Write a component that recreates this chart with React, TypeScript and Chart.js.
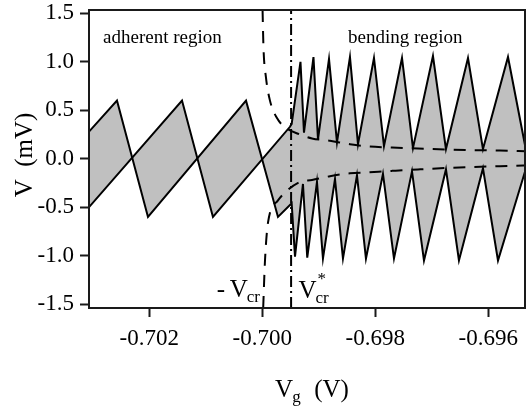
import React, { useEffect, useRef } from "react";
import { Chart, registerables } from "chart.js";

Chart.register(...registerables);

// ---- axis ticks ----
const xTicks = [-0.702, -0.7, -0.698, -0.696];
const yTicks = [-1.5, -1.0, -0.5, 0.0, 0.5, 1.0, 1.5];
const xMin = -0.703067;
const xMax = -0.69535;
const yMin = -1.54;
const yMax = 1.535;

// ---- upper boundary of the gray band (Vg in V, V in mV) ----
const upperVg = [
  -0.703067, -0.701421, -0.700873, -0.69951, -0.69948, -0.699324, -0.699262,
  -0.699094, -0.699014, -0.698819, -0.698678, -0.698448, -0.698306, -0.698023,
  -0.697846, -0.697527, -0.697333, -0.696979, -0.696749, -0.696359, -0.696094,
  -0.695651, -0.695333,
];
const upperV = [
  -0.5, 0.6, -0.6, 0.33, 0.36, 1.0, 0.27, 1.05, 0.2, 1.03, 0.17, 1.05, 0.15,
  1.04, 0.13, 1.04, 0.11, 1.06, 0.1, 1.04, 0.1, 1.05, 0.09,
];

// ---- lower boundary of the gray band ----
const lowerVg = [
  -0.703067, -0.702572, -0.702023, -0.700288, -0.699722, -0.69948, -0.699421,
  -0.69928, -0.699204, -0.699032, -0.698926, -0.698713, -0.698572, -0.698324,
  -0.698165, -0.697864, -0.697669, -0.69735, -0.697138, -0.696749, -0.696519,
  -0.696094, -0.695828, -0.695333,
];
const lowerV = [
  0.28, 0.6, -0.6, 0.6, -0.6, -0.46, -1.01, -0.26, -1.02, -0.24, -1.03, -0.21,
  -1.03, -0.17, -1.03, -0.155, -1.03, -0.13, -1.05, -0.11, -1.05, -0.1, -1.05,
  -0.1,
];

// ---- dashed envelope curves ----
const dashUpperVg = [
  -0.699995, -0.699979, -0.699935, -0.699864, -0.69974, -0.699598, -0.699333,
  -0.69912, -0.698802, -0.698448, -0.698165, -0.697704, -0.697244, -0.696731,
  -0.696271, -0.695793, -0.695333,
];
const dashUpperV = [
  1.535, 1.15, 0.84, 0.6, 0.42, 0.325, 0.25, 0.21, 0.185, 0.15, 0.13, 0.115,
  0.105, 0.095, 0.088, 0.085, 0.077,
];
const dashLowerVg = [
  -0.699984, -0.699952, -0.699899, -0.699722, -0.699563, -0.699333, -0.69912,
  -0.698802, -0.698448, -0.698147, -0.697704, -0.697244, -0.696731, -0.696271,
  -0.695793, -0.695333,
];
const dashLowerV = [
  -1.54, -1.05, -0.66, -0.43, -0.33, -0.24, -0.22, -0.18, -0.15, -0.14, -0.125,
  -0.11, -0.095, -0.085, -0.077, -0.07,
];

// ---- V*cr marker ----
const vcrStar = -0.69949;

// ---- annotation text ----
const regionLabels = ["adherent region", "bending region"];
const regionLabelVg = [-0.702819, -0.698483];
const regionLabelV = 1.19;
const negVcrVg = -0.700807;
const vcrStarLabelVg = -0.699359;
const vcrLabelV = -1.43;

const SERIF = '"Liberation Serif", "Times New Roman", Times, serif';

const pts = (xs: number[], ys: number[]) => xs.map((x, i) => ({ x, y: ys[i] }));

const overlay = {
  id: "overlay",
  afterDraw(chart: any) {
    const { ctx, chartArea: a, scales } = chart;
    const xs = scales.x;
    const ys = scales.y;
    ctx.save();
    // frame
    ctx.strokeStyle = "#1a1a1a";
    ctx.lineWidth = 2;
    ctx.strokeRect(a.left, a.top, a.right - a.left, a.bottom - a.top);

    ctx.fillStyle = "#000";
    ctx.textAlign = "left";
    ctx.textBaseline = "alphabetic";

    // region labels
    ctx.font = `19px ${SERIF}`;
    regionLabels.forEach((t, i) => {
      ctx.fillText(t, xs.getPixelForValue(regionLabelVg[i]), ys.getPixelForValue(regionLabelV));
    });

    // - Vcr
    const by = ys.getPixelForValue(vcrLabelV);
    let px = xs.getPixelForValue(negVcrVg);
    ctx.font = `25px ${SERIF}`;
    ctx.fillText("-", px, by);
    px += 13;
    ctx.fillText("V", px, by);
    px += ctx.measureText("V").width - 1;
    ctx.font = `17px ${SERIF}`;
    ctx.fillText("cr", px, by + 5);

    // V*cr
    px = xs.getPixelForValue(vcrStarLabelVg);
    ctx.font = `25px ${SERIF}`;
    ctx.fillText("V", px, by + 1);
    px += ctx.measureText("V").width - 1;
    ctx.font = `17px ${SERIF}`;
    ctx.fillText("cr", px, by + 6);
    ctx.fillText("*", px + 2, by - 13);

    // x title: V_g (V)
    const cx = (a.left + a.right) / 2 + 5;
    ctx.font = `25px ${SERIF}`;
    const wV = ctx.measureText("V").width;
    const wRest = ctx.measureText("  (V)").width;
    ctx.font = `17px ${SERIF}`;
    const wg = ctx.measureText("g").width;
    let tx = cx - (wV + wg + wRest) / 2;
    const tb = a.bottom + 89;
    ctx.font = `25px ${SERIF}`;
    ctx.fillText("V", tx, tb);
    tx += wV - 1;
    ctx.font = `17px ${SERIF}`;
    ctx.fillText("g", tx, tb + 5);
    tx += wg + 1;
    ctx.font = `25px ${SERIF}`;
    ctx.fillText("  (V)", tx, tb);

    // y title
    ctx.save();
    ctx.translate(a.left - 63.5, (a.top + a.bottom) / 2 - 4);
    ctx.rotate(-Math.PI / 2);
    ctx.textAlign = "center";
    ctx.textBaseline = "middle";
    ctx.font = `25px ${SERIF}`;
    ctx.fillText("V  (mV)", 0, 0);
    ctx.restore();

    ctx.restore();
  },
};

export default function App() {
  const ref = useRef<HTMLCanvasElement | null>(null);

  useEffect(() => {
    if (!ref.current) return;
    const gray = "rgb(192,192,192)";
    const chart = new Chart(ref.current, {
      type: "line",
      data: {
        datasets: [
          {
            data: pts(upperVg, upperV),
            borderColor: "#000",
            borderWidth: 2,
            backgroundColor: gray,
            fill: "+1",
            pointRadius: 0,
            tension: 0,
          },
          {
            data: pts(lowerVg, lowerV),
            borderColor: "#000",
            borderWidth: 2,
            backgroundColor: gray,
            fill: false,
            pointRadius: 0,
            tension: 0,
          },
          {
            data: pts(dashUpperVg, dashUpperV),
            borderColor: "#000",
            borderWidth: 2,
            borderDash: [12, 9],
            fill: false,
            pointRadius: 0,
            cubicInterpolationMode: "monotone",
          },
          {
            data: pts(dashLowerVg, dashLowerV),
            borderColor: "#000",
            borderWidth: 2,
            borderDash: [12, 9],
            fill: false,
            pointRadius: 0,
            cubicInterpolationMode: "monotone",
          },
          {
            data: [
              { x: vcrStar, y: yMin },
              { x: vcrStar, y: yMax },
            ],
            borderColor: "#000",
            borderWidth: 2,
            borderDash: [11, 4, 2, 4],
            fill: false,
            pointRadius: 0,
          },
        ],
      },
      options: {
        responsive: false,
        animation: false,
        devicePixelRatio: 1,
        layout: { padding: { top: 10, right: 1, left: 0, bottom: 0 } },
        plugins: {
          legend: { display: false },
          tooltip: { enabled: false },
          filler: { drawTime: "beforeDatasetsDraw" } as any,
        },
        scales: {
          x: {
            type: "linear",
            min: xMin,
            max: xMax,
            border: { display: false },
            grid: {
              drawOnChartArea: false,
              drawTicks: true,
              tickLength: 9,
              tickWidth: 2,
              tickColor: "#1a1a1a",
            },
            afterBuildTicks: (s: any) => {
              s.ticks = xTicks.map((v) => ({ value: v }));
            },
            afterFit: (s: any) => {
              s.height = 101;
              s.paddingLeft = 0;
              s.paddingRight = 0;
            },
            ticks: {
              color: "#000",
              padding: 8,
              maxRotation: 0,
              autoSkip: false,
              font: { family: SERIF, size: 23 },
              callback: (v: any) => Number(v).toFixed(3),
            },
          },
          y: {
            type: "linear",
            min: yMin,
            max: yMax,
            border: { display: false },
            grid: {
              drawOnChartArea: false,
              drawTicks: true,
              tickLength: 9,
              tickWidth: 2,
              tickColor: "#1a1a1a",
            },
            afterBuildTicks: (s: any) => {
              s.ticks = yTicks.map((v) => ({ value: v }));
            },
            afterFit: (s: any) => {
              s.width = 89;
              s.paddingTop = 0;
              s.paddingBottom = 0;
            },
            ticks: {
              color: "#000",
              padding: 6,
              autoSkip: false,
              font: { family: SERIF, size: 23 },
              callback: (v: any) => Number(v).toFixed(1),
            },
          },
        },
      },
      plugins: [overlay],
    });
    return () => chart.destroy();
  }, []);

  return (
    <div style={{ position: "absolute", left: 0, top: 0, width: 526, height: 409, background: "#fff" }}>
      <canvas ref={ref} width={526} height={409} />
    </div>
  );
}
